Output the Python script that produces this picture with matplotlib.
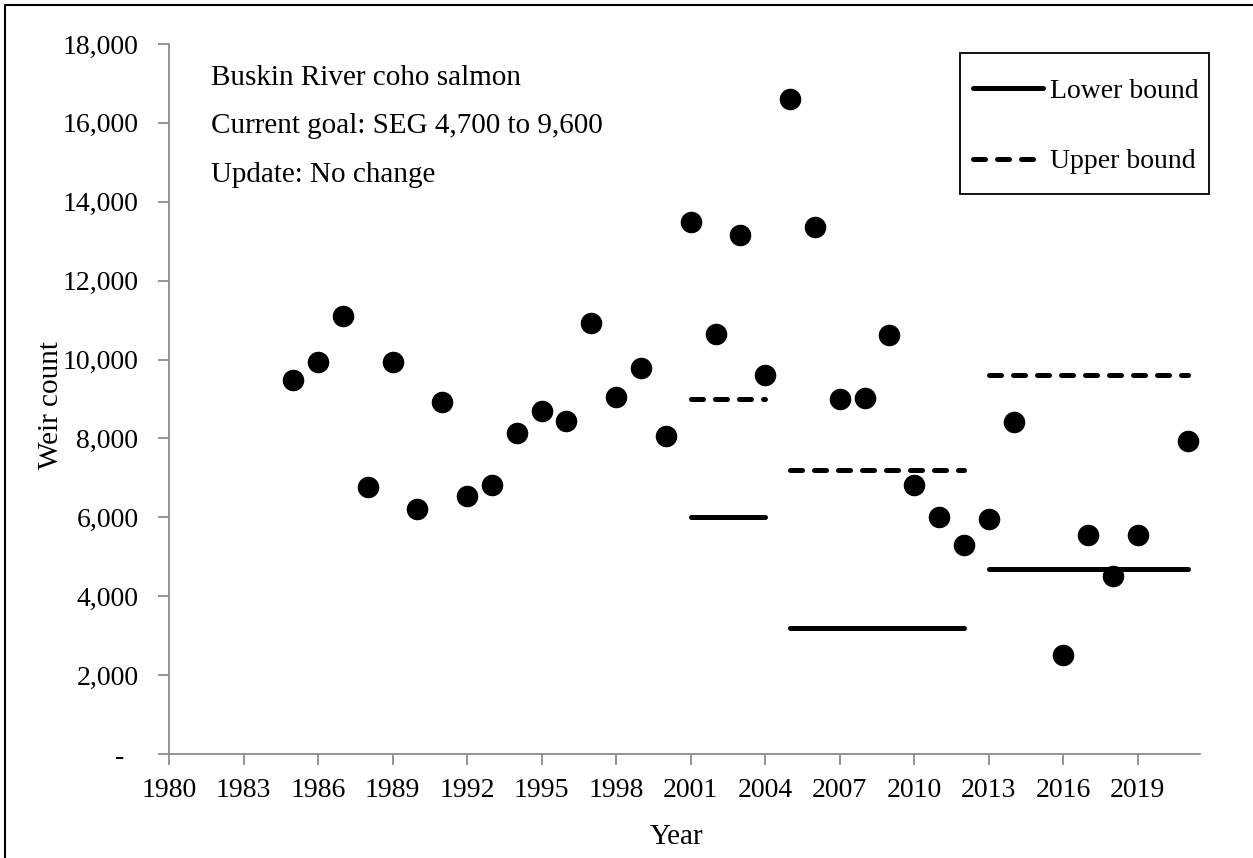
import matplotlib.pyplot as plt
from matplotlib.lines import Line2D
from matplotlib.patches import Rectangle
from matplotlib.ticker import FuncFormatter, MultipleLocator

plt.rcParams['font.family'] = ['Liberation Serif', 'DejaVu Serif']

years = [1985, 1986, 1987, 1988, 1989, 1990, 1991, 1992, 1993, 1994,
         1995, 1996, 1997, 1998, 1999, 2000, 2001, 2002, 2003, 2004,
         2005, 2006, 2007, 2008, 2009, 2010, 2011, 2012, 2013, 2014,
         2016, 2017, 2018, 2019, 2021]
weir = [9480, 9940, 11100, 6780, 9930, 6220, 8930, 6540, 6810, 8150,
        8690, 8440, 10920, 9060, 9790, 8050, 13500, 10650, 13150, 9600,
        16600, 13350, 9010, 9030, 10620, 6810, 6020, 5290, 5960, 8420,
        2510, 5560, 4520, 5540, 7930]

# escapement goal periods: (start, end, lower, upper)
goal_start = [2001, 2005, 2013]
goal_end = [2004, 2012, 2021]
goal_lower = [6000, 3200, 4700]
goal_upper = [9000, 7200, 9600]

fig = plt.figure(figsize=(12.53, 8.58), dpi=100)
ax = fig.add_axes([169 / 1253, 1 - 754 / 858, (1200 - 169) / 1253, (754 - 44) / 858])

ax.plot(years, weir, 'o', color='black', markersize=14.5, zorder=3)

for i in range(len(goal_start)):
    xs = [goal_start[i], goal_end[i]]
    ax.plot(xs, [goal_lower[i]] * 2, color='black', lw=3.6,
            solid_capstyle='round', label='Lower bound' if i == 0 else None)
    ax.plot(xs, [goal_upper[i]] * 2, color='black', lw=3.6,
            linestyle=(0, (2.4, 2.4)), dash_capstyle='round',
            label='Upper bound' if i == 0 else None)

ax.set_xlim(1980, 2021.5)
ax.set_ylim(0, 18000)
ax.xaxis.set_major_locator(MultipleLocator(3))
ax.yaxis.set_major_locator(MultipleLocator(2000))
# accounting-style format: zero shows as a dash
ax.yaxis.set_major_formatter(FuncFormatter(lambda v, p: '-  ' if v == 0 else f'{int(v):,}'))

for side in ['top', 'right']:
    ax.spines[side].set_visible(False)
for side in ['left', 'bottom']:
    ax.spines[side].set_color('#8c8c8c')
    ax.spines[side].set_linewidth(1.3)
ax.tick_params(direction='out', length=8, width=1.3, color='#8c8c8c',
               labelsize=20, pad=9)
ax.tick_params(axis='y', pad=14)

ax.set_xlabel('Year', fontsize=21, va='center')
ax.xaxis.set_label_coords(0.492, -0.117)
ax.set_ylabel('Weir count', fontsize=21, va='center', ha='center',
              rotation_mode='default')
ax.yaxis.set_label_coords(-0.114, 0.4915)

notes = ['Buskin River coho salmon', 'Current goal: SEG 4,700 to 9,600',
         'Update: No change']
for txt, yy in zip(notes, [0.942, 0.875, 0.806]):
    ax.text(0.0407, yy, txt, transform=ax.transAxes, fontsize=21, va='baseline')

# legend entries without their own frame; the box is drawn separately
ax.legend(loc='upper right', bbox_to_anchor=(1.0226, 0.987), fontsize=20,
          frameon=False, handlelength=2.5, handletextpad=0.25,
          labelspacing=1.63, borderpad=0.9, borderaxespad=0)
ax.add_patch(Rectangle((0.767, 0.7887), 0.2415, 0.1986, transform=ax.transAxes,
                       fill=False, edgecolor='black', lw=1.3, clip_on=False))

# outer frame: only the left and top edges fall inside the image
fig.add_artist(Line2D([5 / 1253, 5 / 1253, 1], [0, 1 - 5 / 858, 1 - 5 / 858],
                      transform=fig.transFigure, color='black', lw=1.5))

fig.savefig('out.png', dpi=100)
